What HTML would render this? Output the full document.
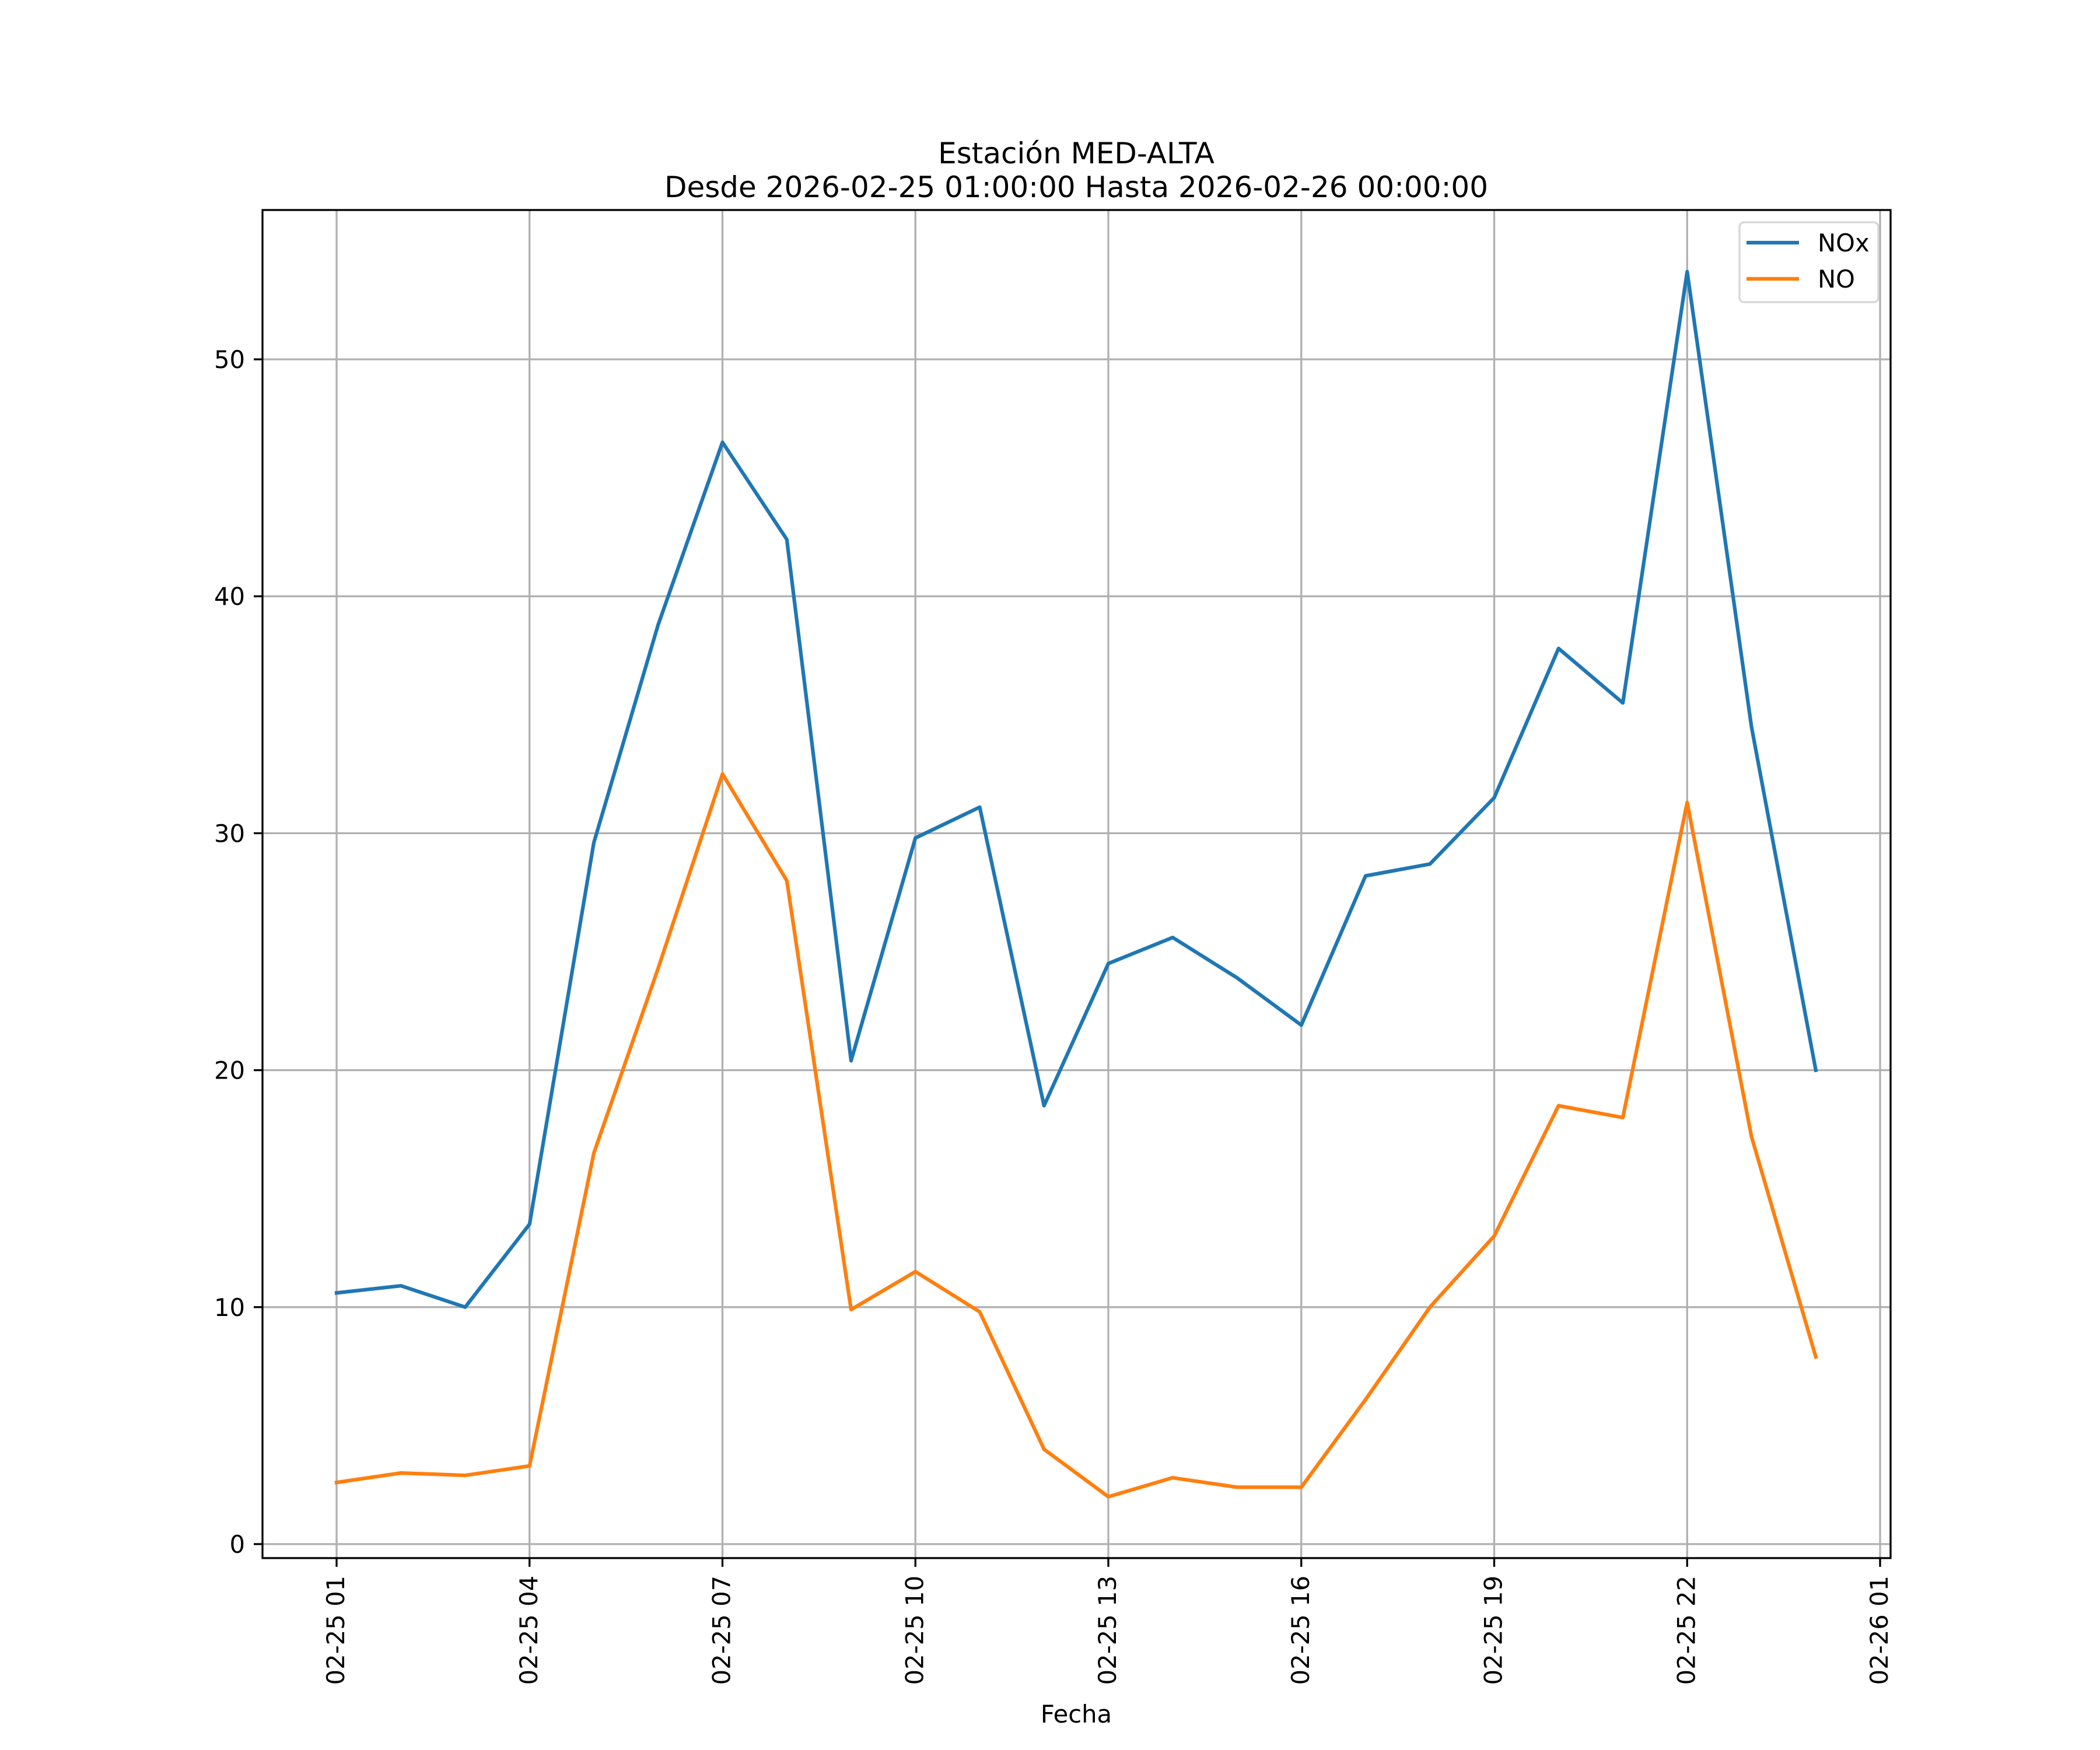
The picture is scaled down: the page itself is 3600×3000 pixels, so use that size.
<!DOCTYPE html>
<html><head><meta charset="utf-8"><style>
html,body{margin:0;padding:0;background:#fff;}
svg{display:block;font-family:"DejaVu Sans","Liberation Sans",sans-serif;}
</style></head><body>
<svg id="chart" width="3600" height="3000" viewBox="0 0 3600 3000" xmlns="http://www.w3.org/2000/svg">
<rect width="3600" height="3000" fill="#fff"/>
<g id="grid"></g>
<g id="series"></g>
<rect x="450" y="360" width="2791" height="2311" fill="none" stroke="#000" stroke-width="3.3"/>
<g id="ticks"></g>
<text x="1845" y="280" font-size="50" text-anchor="middle">Estación MED-ALTA</text>
<text x="1845" y="338" font-size="50" text-anchor="middle">Desde 2026-02-25 01:00:00 Hasta 2026-02-26 00:00:00</text>
<text x="1845" y="2953" font-size="41.7" text-anchor="middle">Fecha</text>
<g>
<rect x="2982" y="381" width="238" height="137" rx="8" fill="#fff" fill-opacity="0.8" stroke="#d6d6d6" stroke-width="3.3"/>
<line x1="2994" y1="416" x2="3084" y2="416" stroke="#1f77b4" stroke-width="6.25"/>
<text x="3116" y="431" font-size="41.7">NOx</text>
<line x1="2994" y1="478" x2="3084" y2="478" stroke="#ff7f0e" stroke-width="6.25"/>
<text x="3116" y="493" font-size="41.7">NO</text>
</g>
</svg>
<script>
const hours = [1,2,3,4,5,6,7,8,9,10,11,12,13,14,15,16,17,18,19,20,21,22,23,24];
const noxValues = [10.6,10.9,10.0,13.5,29.6,38.8,46.5,42.4,20.4,29.8,31.1,18.5,24.5,25.6,23.9,21.9,28.2,28.7,31.5,37.8,35.5,53.7,34.5,20.0];
const noValues = [2.6,3.0,2.9,3.3,16.5,24.3,32.5,28.0,9.9,11.5,9.8,4.0,2.0,2.8,2.4,2.4,6.1,10.0,13.0,18.5,18.0,31.3,17.2,7.9];
const xTickHours = [1,4,7,10,13,16,19,22,25];
const xTickLabels = ["02-25 01","02-25 04","02-25 07","02-25 10","02-25 13","02-25 16","02-25 19","02-25 22","02-26 01"];
const yTickValues = [0,10,20,30,40,50];
const yTickLabels = ["0","10","20","30","40","50"];

const NS = "http://www.w3.org/2000/svg";
function xScale(h){ return 577 + (h - 1) * (3223 - 577) / 24; }
function yScale(v){ return 2647 - v * (2647 - 616) / 50; }
function mk(tag, attrs, parent){ const e = document.createElementNS(NS, tag); for (const k in attrs) e.setAttribute(k, attrs[k]); parent.appendChild(e); return e; }

const grid = document.getElementById('grid');
const ticks = document.getElementById('ticks');
const series = document.getElementById('series');

xTickHours.forEach((h, i) => {
  const x = xScale(h);
  const g = mk('line', {x1:x, y1:360, x2:x, y2:2671, stroke:'#b0b0b0', 'stroke-width':3.3}, grid);
  
  
  const t = mk('line', {x1:x, y1:2671, x2:x, y2:2686, stroke:'#000', 'stroke-width':3.3}, ticks);
  
  
  const lb = mk('text', {x:0, y:0, 'font-size':41.7, 'text-anchor':'end', transform:'translate(' + (x + 13) + ',2701) rotate(-90)'}, ticks);
  lb.textContent = xTickLabels[i];
  
  
});
yTickValues.forEach((v, i) => {
  const y = yScale(v);
  const g = mk('line', {x1:450, y1:y, x2:3241, y2:y, stroke:'#b0b0b0', 'stroke-width':3.3}, grid);
  
  
  const t = mk('line', {x1:435, y1:y, x2:450, y2:y, stroke:'#000', 'stroke-width':3.3}, ticks);
  
  
  const lb = mk('text', {x:420, y:y + 15, 'font-size':41.7, 'text-anchor':'end'}, ticks);
  lb.textContent = yTickLabels[i];
  
  
});
function drawLine(vals, color, name){
  const pts = vals.map((v, i) => xScale(hours[i]).toFixed(1) + ',' + yScale(v).toFixed(1)).join(' ');
  const p = mk('polyline', {points:pts, fill:'none', stroke:color, 'stroke-width':6.25, 'stroke-linejoin':'round', 'stroke-linecap':'square'}, series);
  
  
}
drawLine(noxValues, '#1f77b4', 'nox-line');
drawLine(noValues, '#ff7f0e', 'no-line');
</script>
</body></html>
